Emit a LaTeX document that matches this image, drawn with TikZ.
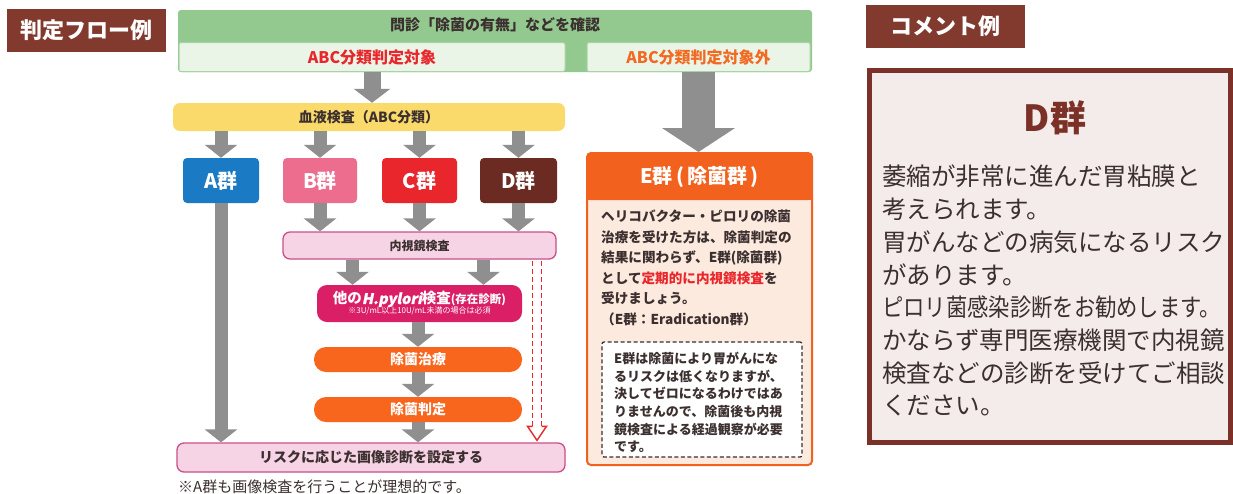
\documentclass[tikz,border=0pt]{standalone}
\usepackage{fontspec}
\setmainfont{Noto Sans CJK JP}
\newfontfamily\jpsl{Noto Sans CJK JP}[FakeSlant=0.2,FakeBold=1.5]
\usetikzlibrary{arrows.meta,calc}
\definecolor{lblred}{HTML}{833A2E}
\definecolor{hdrgreen}{HTML}{93C98F}
\definecolor{subgreen}{HTML}{EAF5E8}
\definecolor{subline}{HTML}{A8D3A3}
\definecolor{tred}{HTML}{E8262B}
\definecolor{torange}{HTML}{F26A21}
\definecolor{yel}{HTML}{F9DA6A}
\definecolor{gA}{HTML}{1A7AC4}
\definecolor{gB}{HTML}{EC6D8E}
\definecolor{gC}{HTML}{E8262B}
\definecolor{gD}{HTML}{6B2A22}
\definecolor{pinkfill}{HTML}{F7D4E5}
\definecolor{pinkline}{HTML}{C8508A}
\definecolor{pyl}{HTML}{DA1F66}
\definecolor{oran}{HTML}{F8651C}
\definecolor{eorange}{HTML}{F2621E}
\definecolor{epeach}{HTML}{FDEADF}
\definecolor{agray}{HTML}{8F8F8F}
\definecolor{dark}{HTML}{3B2F2F}
\definecolor{dboxline}{HTML}{7B3127}
\definecolor{dboxfill}{HTML}{F4ECEB}
\tikzset{
  lbl/.style={fill=lblred, text=white, font=\bfseries\fontsize{22}{26}\selectfont, inner sep=0pt},
  gbox/.style={rounded corners=4pt, text=white, font=\bfseries\fontsize{20}{22}\selectfont, minimum height=45pt, inner sep=0pt},
  pbar/.style={rounded corners=7pt, fill=pinkfill, draw=pinkline, line width=1.3pt, text=dark, inner sep=0pt},
  obar/.style={rounded corners=12pt, fill=oran, text=white, font=\bfseries\fontsize{14}{16}\selectfont, minimum width=208pt, minimum height=25pt, inner sep=0pt},
  garrow/.style={draw=agray, line width=13pt, -{Triangle[width=32pt,length=13pt]}},
  redd/.style={draw=tred, line width=1.4pt, dash pattern=on 5pt off 3pt},
}
\begin{document}
\begin{tikzpicture}[x=1pt,y=-1pt]
\useasboundingbox (0,0) rectangle (1233,493);
\fill[white] (0,0) rectangle (1233,493);

% labels
\node[lbl, minimum width=159pt, minimum height=43pt] (flowlbl) at (86.5,30) {判定フロー例};
\node[lbl, minimum width=159pt, minimum height=43pt] (cmtlbl) at (945.5,26.5) {コメント例};

% header
\node[fill=hdrgreen, rounded corners=3pt, minimum width=634pt, minimum height=62pt, inner sep=0pt] (hdr) at (495,41) {};
\node[text=dark, font=\bfseries\fontsize{15}{17}\selectfont, inner sep=0pt] (hdrtxt) at (495,25) {問診「除菌の有無」などを確認};
\node[fill=subgreen, draw=subline, line width=1pt, rounded corners=2pt, minimum width=386pt, minimum height=29pt, inner sep=0pt, text=tred, font=\bfseries\fontsize{16}{18}\selectfont] (sabc) at (372,57) {ABC分類判定対象};
\node[fill=subgreen, draw=subline, line width=1pt, rounded corners=2pt, minimum width=223pt, minimum height=29pt, inner sep=0pt, text=torange, font=\bfseries\fontsize{16}{18}\selectfont] (snon) at (698.5,57) {ABC分類判定対象外};

% blood test bar
\node[fill=yel, rounded corners=7pt, minimum width=392pt, minimum height=28pt, inner sep=0pt, text=dark, font=\bfseries\fontsize{14}{16}\selectfont] (blood) at (369,117) {血液検査（ABC分類）};

% groups
\node[gbox, fill=gA, minimum width=76pt] (A) at (221,180.5) {A群};
\node[gbox, fill=gB, minimum width=74pt] (B) at (320,180.5) {B群};
\node[gbox, fill=gC, minimum width=75pt] (C) at (419.5,180.5) {C群};
\node[gbox, fill=gD, minimum width=77pt] (D) at (518.5,180.5) {D群};

% endoscopy bar
\node[pbar, minimum width=273pt, minimum height=27pt, font=\bfseries\fontsize{12}{14}\selectfont] (endo) at (419.5,245.5) {内視鏡検査};

% pylori box
\node[fill=pyl, rounded corners=10pt, minimum width=205pt, minimum height=37pt, inner sep=0pt, text=white, align=center] (pyl) at (419.5,303.5)
  {{\bfseries\fontsize{14.5}{15}\selectfont 他の{\jpsl H.pylori}検査{\fontsize{11.5}{12}\selectfont (存在診断)}}\\[-2pt]
   {\fontsize{8}{9}\selectfont ※3U/mL以上10U/mL未満の場合は必須}};

\node[obar] (treat) at (418,359.5) {除菌治療};
\node[obar] (judge) at (418,409.5) {除菌判定};

% risk bar
\node[pbar, minimum width=388pt, minimum height=29pt, font=\bfseries\fontsize{14}{16}\selectfont] (risk) at (371,457.5) {リスクに応じた画像診断を設定する};
\node[anchor=west, inner sep=0pt, text=dark, font=\fontsize{15}{17}\selectfont] (note) at (178,487) {※A群も画像検査を行うことが理想的です。};

% gray arrows
\draw[garrow, line width=17pt, -{Triangle[width=36pt,length=14pt]}] (sabc.south) -- (sabc.south |- blood.north);
\foreach \g in {A,B,C,D} {
  \draw[garrow] (blood.south -| \g.north) -- (\g.north);
}
\draw[garrow] (A.south) -- (A.south |- risk.north);
\foreach \g in {B,C,D} {
  \draw[garrow] (\g.south) -- (\g.south |- endo.north);
}
\draw[garrow] ([xshift=-67pt]endo.south) -- ([xshift=-67pt]endo.south |- pyl.north);
\draw[garrow] ([xshift=64pt]endo.south) -- ([xshift=64pt]endo.south |- pyl.north);
\draw[garrow] (pyl.south -| treat.north) -- (treat.north);
\draw[garrow] (treat.south) -- (judge.north);
\draw[garrow] (judge.south) -- (judge.south |- risk.north);

% red dashed double arrow
\coordinate (dtop) at ([xshift=117.5pt]endo.south);
\coordinate (dend) at (dtop |- risk.north);
\draw[redd] ($(dtop)+(-4.5,1)$) -- ($(dend)+(-4.5,-16)$);
\draw[redd] ($(dtop)+(4.5,1)$) -- ($(dend)+(4.5,-16)$);
\draw[draw=tred, line width=1.4pt, line join=miter]
  ($(dend)+(-4.5,-16)$) -- ($(dend)+(-9.5,-16)$) -- ($(dend)+(0,-2)$) -- ($(dend)+(9.5,-16)$) -- ($(dend)+(4.5,-16)$);

% E box and big gray arrow
\node[draw=eorange, line width=2pt, fill=epeach, rounded corners=4pt, minimum width=225pt, minimum height=312pt, inner sep=0pt] (ebox) at (699.5,309) {};
\draw[garrow, line width=33pt, -{Triangle[width=72pt,length=24pt]}] (snon.south) -- (snon.south |- ebox.north);
\node[fill=eorange, rounded corners=4pt, minimum width=225pt, minimum height=47pt, inner sep=0pt] (ehead) at (699.5,176.5) {};
\fill[eorange] (ehead.west) rectangle (ehead.south east);
\node[text=white, font=\bfseries\fontsize{20}{22}\selectfont, inner sep=0pt] (eheadtxt) at (ehead.center) {E群\,(\,除菌群\,)};
\node[anchor=north west, inner sep=0pt, text=dark, align=left, font=\bfseries\fontsize{13.6}{20.5}\selectfont] (etext) at (601,210)
  {ヘリコバクター・ピロリの除菌\\
   治療を受けた方は、除菌判定の\\
   結果に関わらず、E群(除菌群)\\
   として{\color{tred}定期的に内視鏡検査}を\\
   受けましょう。\\
   （E群：Eradication群）};
\node[draw=dark, fill=white, line width=1.3pt, dash pattern=on 4pt off 2.5pt, rounded corners=2pt, minimum width=200pt, minimum height=115pt, inner sep=0pt] (edash) at (702,399.5) {};
\node[anchor=north west, inner sep=0pt, text=dark, align=left, font=\bfseries\fontsize{13}{17.6}\selectfont] (edtext) at (614,352)
  {E群は除菌により胃がんにな\\
   るリスクは低くなりますが、\\
   決してゼロになるわけではあ\\
   りませんので、除菌後も内視\\
   鏡検査による経過観察が必要\\
   です。};

% comment box
\node[draw=dboxline, line width=5pt, fill=dboxfill, minimum width=361pt, minimum height=372pt, inner sep=0pt] (dbox) at (1050,256.5) {};
\node[text=dboxline, font=\bfseries\fontsize{36}{40}\selectfont, inner sep=0pt] (dtitle) at (1055,118) {D群};
\node[anchor=north west, inner sep=0pt, text=dark, align=left, font=\fontsize{24.5}{32.7}\selectfont] (dtext) at (882,165)
  {萎縮が非常に進んだ胃粘膜と\\
   考えられます。\\
   胃がんなどの病気になるリスク\\
   があります。\\
   \scalebox{0.87}[1]{ピロリ菌感染診断をお勧めします。}\\
   かならず専門医療機関で内視鏡\\
   検査などの診断を受けてご相談\\
   ください。};
\end{tikzpicture}
\end{document}
